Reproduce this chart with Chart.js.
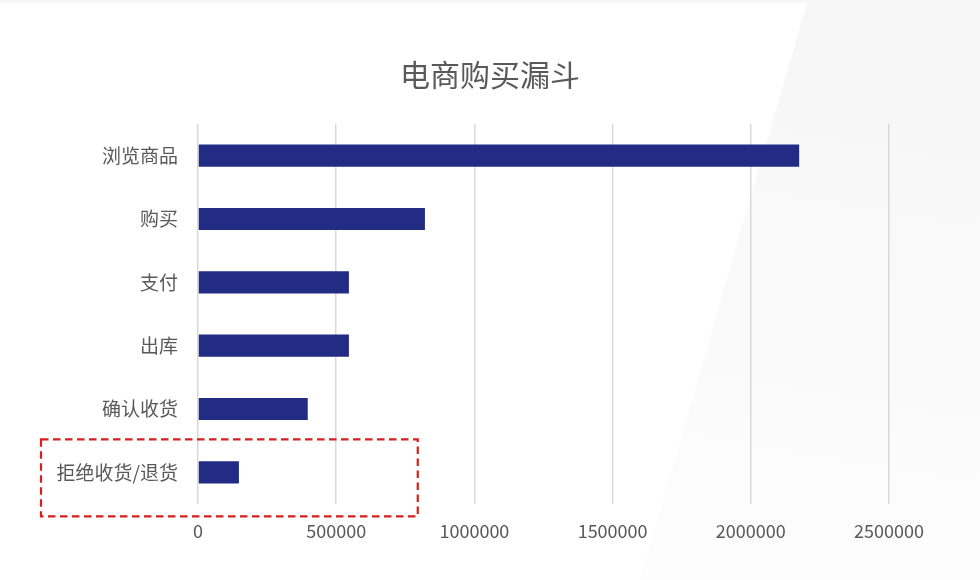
<!DOCTYPE html>
<html>
<head>
<meta charset="utf-8">
<script src="https://cdn.jsdelivr.net/npm/chart.js@4.4.0/dist/chart.umd.min.js"></script>
<style>
  html, body { margin: 0; padding: 0; background: #ffffff; }
  #wrap { width: 980px; height: 580px; position: relative; }
</style>
</head>
<body>
<div id="wrap"><canvas id="funnelChart" width="980" height="580"></canvas></div>
<script>
// Funnel data
const stages = ['浏览商品', '购买', '支付', '出库', '确认收货', '拒绝收货/退货'];
const counts = [2175000, 821000, 546000, 546000, 397000, 148000];
const xTicks = [0, 500000, 1000000, 1500000, 2000000, 2500000];

const fontFamily = '"Noto Sans CJK SC", "Noto Sans", sans-serif';
const textColor = '#595959';

// very light grey slanted panel behind the chart
const backdrop = {
    id: 'backdrop',
    beforeDraw(chart) {
        const ctx = chart.ctx;
        ctx.save();
        ctx.fillStyle = '#ffffff';
        ctx.fillRect(0, 0, chart.width, chart.height);
        const g = ctx.createLinearGradient(800, 0, 700, 580);
        g.addColorStop(0, '#f6f6f6');
        g.addColorStop(1, '#fdfdfd');
        ctx.fillStyle = g;
        ctx.beginPath();
        ctx.moveTo(808, 0);
        ctx.lineTo(chart.width, 0);
        ctx.lineTo(chart.width, chart.height);
        ctx.lineTo(640, chart.height);
        ctx.closePath();
        ctx.fill();
        ctx.fillStyle = '#f7f7f7';
        ctx.fillRect(0, 0, chart.width, 3);
        ctx.restore();
    }
};

// red dashed highlight around the last stage
const highlight = {
    id: 'highlight',
    afterDraw(chart) {
        const ctx = chart.ctx;
        const y = chart.scales.y;
        const x = chart.scales.x;
        const cy = y.getPixelForValue(stages.length - 1);
        const top = cy - 33;
        const bottom = cy + 44;
        const left = 41;
        const right = x.getPixelForValue(795000);
        ctx.save();
        ctx.strokeStyle = '#d81e1e';
        ctx.lineWidth = 2.2;
        ctx.setLineDash([7.5, 4.5]);
        ctx.strokeRect(left, top, right - left, bottom - top);
        ctx.restore();
    }
};

new Chart(document.getElementById('funnelChart'), {
    type: 'bar',
    data: {
        labels: stages,
        datasets: [{
            data: counts,
            backgroundColor: '#222c85',
            barPercentage: 0.35,
            categoryPercentage: 1
        }]
    },
    plugins: [backdrop, highlight],
    options: {
        indexAxis: 'y',
        responsive: false,
        animation: false,
        devicePixelRatio: 1,
        layout: {
            padding: { top: 57, right: 0, bottom: 0, left: 0 }
        },
        plugins: {
            legend: { display: false },
            tooltip: { enabled: false },
            title: {
                display: true,
                text: '电商购买漏斗',
                color: textColor,
                font: { family: fontFamily, size: 30, weight: 'normal' },
                padding: { top: 0, bottom: 31 }
            }
        },
        scales: {
            x: {
                min: 0,
                max: 2500000,
                afterBuildTicks(scale) {
                    scale.ticks = xTicks.map(v => ({ value: v }));
                },
                afterFit(scale) {
                    scale.height = 76;
                },
                ticks: {
                    color: textColor,
                    padding: 16,
                    font: { family: fontFamily, size: 18 },
                    callback: v => String(v)
                },
                grid: {
                    color: '#d9d9d9',
                    lineWidth: 1.5,
                    drawTicks: false
                },
                border: { display: false }
            },
            y: {
                afterFit(scale) {
                    scale.width = 198;
                },
                ticks: {
                    color: textColor,
                    padding: 20,
                    font: { family: fontFamily, size: 19 }
                },
                grid: { display: false, drawTicks: false },
                border: { display: false }
            },
            // empty right-hand axis: keeps the right margin so the title centres on the page
            yRight: {
                type: 'category',
                position: 'right',
                afterFit(scale) {
                    scale.width = 91;
                },
                ticks: { display: false },
                grid: { display: false, drawTicks: false },
                border: { display: false }
            }
        }
    }
});
</script>
</body>
</html>
